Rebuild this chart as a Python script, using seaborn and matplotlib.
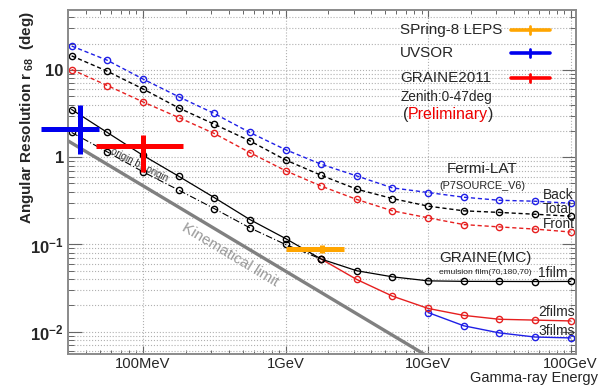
import numpy as np
import pandas as pd
import matplotlib
matplotlib.use("Agg")
import matplotlib.pyplot as plt
import seaborn as sns
from matplotlib.ticker import LogLocator, NullFormatter

# ---------------- data ----------------
energy_fermi = [31.6, 56.2, 100, 178, 316, 562, 1000, 1780, 3160, 5620,
                10000, 17800, 31600, 56200, 100000]
fermi_back = [18.8, 12.9, 7.87, 4.93, 3.17, 1.92, 1.22, 0.83, 0.61, 0.445,
              0.394, 0.348, 0.321, 0.313, 0.297]
fermi_total = [14.5, 9.66, 6.06, 3.67, 2.39, 1.54, 0.93, 0.62, 0.43, 0.336,
               0.275, 0.243, 0.233, 0.222, 0.211]
fermi_front = [10.1, 6.63, 4.30, 2.85, 1.87, 1.13, 0.70, 0.466, 0.328, 0.243,
               0.202, 0.169, 0.159, 0.150, 0.139]

energy_1film = energy_fermi
graine_1film = [3.52, 1.92, 1.05, 0.605, 0.345, 0.193, 0.117, 0.068, 0.050,
                0.0426, 0.0383, 0.0378, 0.0377, 0.0376, 0.0377]
energy_origin = [31.6, 56.2, 100, 178, 316, 562, 1000, 1780]
graine_origin = [1.92, 1.15, 0.68, 0.42, 0.258, 0.155, 0.100, 0.068]
energy_2films = [1780, 3160, 5620, 10000, 17800, 31600, 56200, 100000]
graine_2films = [0.068, 0.0397, 0.0256, 0.0185, 0.0154, 0.0139, 0.0136, 0.0133]
energy_3films = [10000, 17800, 31600, 56200, 100000]
graine_3films = [0.0166, 0.0117, 0.0097, 0.0087, 0.0085]

kin_energy = [30, 10000]
kin_limit = [1.53, 0.0052]

# measurements: name, E centre, E low, E high, r centre, r low, r high
cross_names = ["SPring-8 LEPS", "UVSOR", "GRAINE2011"]
cross_e = [1810, 36, 100]
cross_elo = [1010, 19.2, 46.5]
cross_ehi = [2590, 49.3, 190]
cross_r = [0.0883, 2.09, 1.35]
cross_rlo = [0.080, 1.08, 0.673]
cross_rhi = [0.098, 3.94, 1.79]
cross_colors = ["#ffa500", "#0000ee", "#ff0000"]

xtick_vals = [100, 1000, 10000, 100000]
xtick_labels = ["100MeV", "1GeV", "10GeV", "100GeV"]
ytick_vals = [0.01, 0.1, 1, 10]
ytick_labels = [r"$\mathbf{10^{-2}}$", r"$\mathbf{10^{-1}}$", "1", "10"]

# ---------------- style ----------------
sns.set_theme(style="white")
plt.rcParams["font.family"] = ["Liberation Sans", "DejaVu Sans"]
plt.rcParams["mathtext.fontset"] = "custom"
plt.rcParams["mathtext.rm"] = "Liberation Sans"
plt.rcParams["mathtext.bf"] = "Liberation Sans:bold"
plt.rcParams["mathtext.it"] = "Liberation Sans:italic"

W, H = 616, 389
fig = plt.figure(figsize=(W / 100, H / 100), dpi=100)
L, R, T, B = 68, 576, 10, 354
ax = fig.add_axes([L / W, 1 - B / H, (R - L) / W, (B - T) / H])
ax.set_xscale("log")
ax.set_yscale("log")
ax.set_xlim(29.8, 1.09e5)
ax.set_ylim(0.00556, 48.6)

def ax_xy(px, py):
    return ((px - L) / (R - L), (B - py) / (B - T))

# grid
ax.grid(True, which="major", axis="x", linestyle=":", color="#b0b0b0", lw=0.8)
ax.grid(True, which="both", axis="y", linestyle=":", color="#b0b0b0", lw=0.8)

# kinematic limit
sns.lineplot(x=kin_energy, y=kin_limit, ax=ax, color="#808080", lw=2.4)

def series(x, y, color, ls, lw=1.0, marker=True):
    df = pd.DataFrame({"E": x, "r": y})
    kw = dict(marker="o", markersize=4.5, markerfacecolor="none",
              markeredgecolor=color, markeredgewidth=1.0) if marker else {}
    sns.lineplot(data=df, x="E", y="r", ax=ax, color=color, linestyle=ls,
                 lw=lw, sort=False, estimator=None, **kw)

blue = "#1f1fe6"
red = "#e61f1f"
series(energy_fermi, fermi_back, blue, (0, (3, 2)))
series(energy_fermi, fermi_total, "black", (0, (3, 2)))
series(energy_fermi, fermi_front, red, (0, (3, 2)))
series(energy_3films, graine_3films, blue, "-")
series(energy_2films, graine_2films, red, "-")
series(energy_origin, graine_origin, "black", (0, (6, 2, 1, 2)), lw=0.8)
series(energy_1film, graine_1film, "black", "-", lw=0.9)

# measurement crosses
for i in range(len(cross_names)):
    ax.plot([cross_elo[i], cross_ehi[i]], [cross_r[i], cross_r[i]],
            color=cross_colors[i], lw=3.6, clip_on=False, solid_capstyle="butt", zorder=5)
    ax.plot([cross_e[i], cross_e[i]], [cross_rlo[i], cross_rhi[i]],
            color=cross_colors[i], lw=3.6, clip_on=False, solid_capstyle="butt", zorder=5)

# legend (custom)
leg_y = [30, 53, 78]
for name, c, py in zip(cross_names, cross_colors, leg_y):
    x0, y0 = ax_xy(400, py)
    ax.text(x0, y0, name, transform=ax.transAxes, fontsize=11, ha="left", va="center")
    xa, ya = ax_xy(511, py)
    xb, _ = ax_xy(550, py)
    ax.plot([xa, xb], [ya, ya], transform=ax.transAxes, color=c, lw=2.6, clip_on=False)
    xm, _ = ax_xy(530, py)
    _, yt = ax_xy(530, py - 4)
    _, yb = ax_xy(530, py + 4)
    ax.plot([xm, xm], [yb, yt], transform=ax.transAxes, color=c, lw=2.0, clip_on=False)

x0, y0 = ax_xy(400.5, 97)
ax.text(x0, y0, "Zenith:0-47deg", transform=ax.transAxes, fontsize=9.8, ha="left", va="center")
x0, y0 = ax_xy(402.5, 114)
t1 = ax.text(x0, y0, "(", transform=ax.transAxes, fontsize=11.5, ha="left", va="center")
t2 = ax.annotate("Preliminary", xy=(1, 0), xycoords=t1, fontsize=11.5, color="#ee0000",
                 ha="left", va="bottom")
ax.annotate(")", xy=(1, 0), xycoords=t2, fontsize=11.5, ha="left", va="bottom")

# Fermi labels
x0, y0 = ax_xy(482, 169)
ax.text(x0, y0, "Fermi-LAT", transform=ax.transAxes, fontsize=11, ha="center", va="center")
x0, y0 = ax_xy(482, 186)
ax.text(x0, y0, "(P7SOURCE_V6)", transform=ax.transAxes, fontsize=7.8, ha="center", va="center")
for txt, py in zip(["Back", "Total", "Front"], [195, 209, 224]):
    x0, y0 = ax_xy(543, py)
    ax.text(x0, y0, txt, transform=ax.transAxes, fontsize=9.8, ha="left", va="center")

# GRAINE labels
x0, y0 = ax_xy(485, 258)
ax.text(x0, y0, "GRAINE(MC)", transform=ax.transAxes, fontsize=11, ha="center", va="center")
x0, y0 = ax_xy(485, 273)
ax.text(x0, y0, "emulsion film(70,180,70)", transform=ax.transAxes, fontsize=6, ha="center", va="center")
for txt, py in zip(["1film", "2films", "3films"], [273, 312, 331]):
    x0, y0 = ax_xy(538, py)
    ax.text(x0, y0, txt, transform=ax.transAxes, fontsize=10, ha="left", va="center")

# inline labels
x0, y0 = ax_xy(230, 255)
ax.text(x0, y0, "Kinematical limit", transform=ax.transAxes, fontsize=11, color="#999999",
        rotation=-31, rotation_mode="anchor", ha="center", va="center")
x0, y0 = ax_xy(139, 165)
ax.text(x0, y0, "origin by origin", transform=ax.transAxes, fontsize=7, color="#333333",
        rotation=-27, rotation_mode="anchor", ha="center", va="center")

# axes & ticks
ax.set_xticks(xtick_vals)
ax.set_xticklabels(xtick_labels, fontsize=10.6)
ax.xaxis.set_minor_locator(LogLocator(base=10, subs=np.arange(2, 10)))
ax.xaxis.set_minor_formatter(NullFormatter())
ax.set_yticks(ytick_vals)
ax.set_yticklabels(ytick_labels, fontsize=12, fontweight="bold")
ax.yaxis.set_minor_locator(LogLocator(base=10, subs=np.arange(2, 10)))
ax.yaxis.set_minor_formatter(NullFormatter())

spine_c = "#8a8a8a"
for s in ax.spines.values():
    s.set_color(spine_c)
    s.set_linewidth(1.4)
ax.tick_params(axis="x", which="major", direction="in", length=6, width=0.8,
               color="#666666", top=True, bottom=True, pad=2)
ax.tick_params(axis="x", which="minor", direction="in", length=3, width=0.7,
               color="#666666", top=True, bottom=True)
ax.tick_params(axis="y", which="major", direction="in", length=10, width=0.8,
               color="#666666", left=True, right=True, pad=3)
ax.tick_params(axis="y", which="minor", direction="in", length=4.5, width=0.7,
               color="#666666", left=True, right=True)

ax.set_ylabel(r"Angular Resolution r$_{\;\mathbf{68}}$  (deg)", fontsize=11,
              fontweight="bold", loc="top")
ax.yaxis.set_label_coords(-0.063, 0.995)
ax.set_xlabel("Gamma-ray Energy", fontsize=10.5, loc="right")
ax.xaxis.set_label_coords(1.043, -0.05)

fig.savefig("out.png", dpi=100, facecolor="white")
